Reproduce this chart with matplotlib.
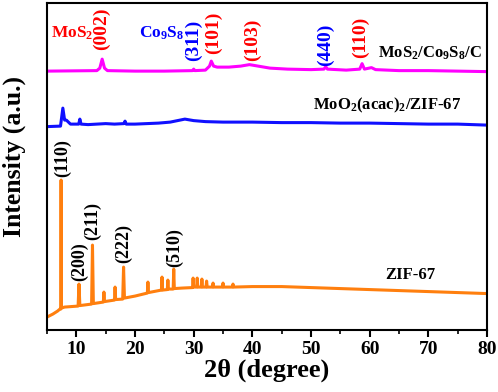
import matplotlib.pyplot as plt

plt.rcParams['font.family'] = 'Liberation Serif'
plt.rcParams['font.weight'] = 'bold'
plt.rcParams['axes.labelweight'] = 'bold'
plt.rcParams['mathtext.fontset'] = 'custom'
plt.rcParams['mathtext.rm'] = 'Liberation Serif:bold'
plt.rcParams['mathtext.it'] = 'Liberation Serif:bold'
plt.rcParams['mathtext.bf'] = 'Liberation Serif:bold'
plt.rcParams['mathtext.default'] = 'rm'

# ZIF-67 (orange), offset intensity
zif_x = [5, 6, 6.8, 7.2, 7.35, 7.4, 7.45, 8, 10.3, 10.45, 10.6, 12.6, 12.75, 12.9,
         14.6, 14.7, 14.8, 16.5, 16.6, 16.7, 17.9, 18.05, 18.2, 20, 22.1, 22.2, 22.3,
         24.5, 24.6, 24.7, 25.5, 25.6, 25.7, 26.5, 26.6, 26.7, 28, 29.8, 29.9, 30,
         30.5, 30.6, 30.7, 31.3, 31.4, 31.5, 32.1, 32.2, 32.3, 33.2, 33.3, 33.4,
         34.9, 35, 35.1, 36.6, 36.7, 36.8, 40, 45, 50, 55, 60, 65, 70, 75, 80]
zif_y = [13, 16, 19, 21, 21, 150, 22, 23, 24, 46, 24.5, 26, 85, 26.5,
         28, 38, 28.5, 30, 43, 30.5, 31, 63, 32, 34, 37, 48, 37.5,
         40, 53, 40, 40.5, 50, 41, 41, 61, 41.5, 42, 42.5, 52, 43,
         43, 52, 43, 43, 51, 43, 43, 49, 43, 43, 47, 43,
         43, 47, 43, 43, 46, 43, 43.5, 43.5, 42.5, 41.5, 40.5, 39.5, 38.5, 37.5, 36.5]

# MoO2(acac)2/ZIF-67 (blue)
moo_x = [5, 7.3, 7.7, 8.0, 8.3, 9, 10.4, 10.6, 10.8, 12, 13.5, 15, 16.5, 18.1, 18.3,
         18.5, 20, 22, 24, 26, 28.5, 30, 32, 35, 40, 45, 50, 55, 60, 65, 70, 75, 80]
moo_y = [203.5, 204, 222, 210, 210, 206, 206, 211, 206, 205.5, 206, 206.5, 206, 206.5, 209,
         206, 206, 206.5, 207, 208, 211, 209.5, 208.5, 208, 208, 207.5, 207.5, 207, 207, 206.5, 206, 206, 205]

# MoS2/Co9S8/C (magenta)
mos_x = [5, 13.5, 14.0, 14.4, 14.8, 15.3, 20, 25, 29.8, 30.0, 30.2, 32, 32.7, 33.0, 33.4,
         34, 36, 38, 39.5, 41, 43, 46, 50, 52.2, 52.5, 52.8, 56, 58.3, 58.7, 59.1,
         60.3, 61, 65, 70, 75, 80]
mos_y = [259, 259.5, 262, 271, 262, 259.5, 259, 259, 259.5, 261, 259.5, 260, 264, 269, 264,
         263, 263, 264, 265.5, 264, 262, 261, 260.5, 261, 263.5, 261, 260, 261, 266.5, 261,
         262.5, 260.5, 259.5, 259.5, 259, 258.5]

# peak index labels: (text, x, y, colour)
top_labels = [('(002)', 14.3, 301, 'red'), ('(311)', 29.9, 290, 'blue'),
              ('(101)', 33.3, 297, 'red'), ('(103)', 40.1, 290, 'red'),
              ('(440)', 52.4, 285, 'blue'), ('(110)', 58.5, 293, 'red')]
zif_labels = [('(110)', 7.7, 172), ('(200)', 10.6, 68), ('(211)', 12.8, 109),
              ('(222)', 18.1, 87), ('(510)', 26.8, 83)]

fig = plt.figure(figsize=(4.98, 3.92), dpi=100)
ax = fig.add_axes([0.0944, 0.158, 0.8836, 0.834])

ax.plot(zif_x, zif_y, color='#ff7f0e', lw=2.2)
ax.plot(moo_x, moo_y, color='#1010ff', lw=2.2)
ax.plot(mos_x, mos_y, color='#ff00ff', lw=2.2)

for txt, x, y, c in top_labels:
    ax.text(x, y, txt, color=c, rotation=90, ha='center', va='center',
            fontsize=14, fontweight='bold')
for txt, x, y in zif_labels:
    ax.text(x, y, txt, color='black', rotation=90, ha='center', va='center',
            fontsize=13, fontweight='bold')

ax.text(5.7, 297, 'MoS$_2$', color='red', ha='left', va='center', fontsize=12.5, fontweight='bold')
ax.text(20.7, 297, 'Co$_9$S$_8$', color='blue', ha='left', va='center', fontsize=12.5, fontweight='bold')
ax.text(61.4, 277, 'MoS$_2$/Co$_9$S$_8$/C', ha='left', va='center', fontsize=12, fontweight='bold')
ax.text(50.3, 225, 'MoO$_2$(acac)$_2$/ZIF-67', ha='left', va='center', fontsize=12, fontweight='bold')
ax.text(62.6, 55, 'ZIF-67', ha='left', va='center', fontsize=12, fontweight='bold')

ax.set_xlim(5, 80)
ax.set_ylim(0, 327)
ax.set_xticks(range(10, 81, 10))
ax.set_xticks(range(5, 81, 5), minor=True)
ax.set_yticks([])
ax.tick_params(axis='x', labelsize=14, width=1.5, length=5, pad=3)
ax.tick_params(axis='x', which='minor', width=1.2, length=3)
for lab in ax.get_xticklabels():
    lab.set_fontweight('bold')
for s in ax.spines.values():
    s.set_linewidth(1.5)

ax.set_xlabel('2θ (degree)', fontsize=19, fontweight='bold', labelpad=0)
ax.set_ylabel('Intensity (a.u.)', fontsize=18.5, fontweight='bold')
ax.yaxis.set_label_coords(-0.048, 0.53)

plt.savefig('out.png', dpi=100)
